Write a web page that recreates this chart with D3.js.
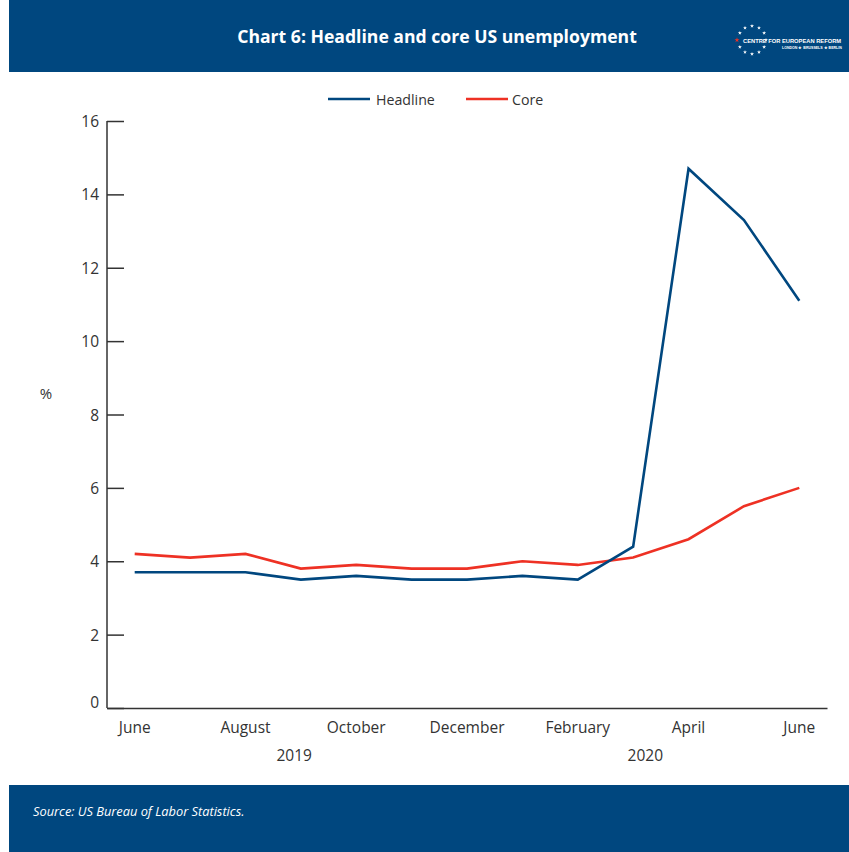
<!DOCTYPE html>
<html>
<head>
<meta charset="utf-8">
<script src="https://cdn.jsdelivr.net/npm/d3@7"></script>
<style>
  html, body { margin: 0; padding: 0; background: #fff; }
  svg { display: block; }
  text { font-family: "Open Sans", "Noto Sans", sans-serif; }
</style>
</head>
<body>
<svg id="chart" width="849" height="852"></svg>
<script>
const months = ["June","July","August","September","October","November","December","January","February","March","April","May","June "];
const yearLabels = ["2019", "2020"];
const yearAt = [2.88, 9.22];
const headline = [3.7, 3.7, 3.7, 3.5, 3.6, 3.5, 3.5, 3.6, 3.5, 4.4, 14.7, 13.3, 11.1];
const core = [4.2, 4.1, 4.2, 3.8, 3.9, 3.8, 3.8, 4.0, 3.9, 4.1, 4.6, 5.5, 6.0];
const yTicks = [0, 2, 4, 6, 8, 10, 12, 14, 16];

const navy = "#00477f";
const red = "#ee3124";
const axisCol = "#333";

const svg = d3.select("#chart");
const W = 849, H = 852;

// Header band
svg.append("rect").attr("x", 9).attr("y", 0).attr("width", W - 9).attr("height", 72).attr("fill", navy);
svg.append("text").attr("x", 437).attr("y", 43).attr("text-anchor", "middle")
  .attr("fill", "#fff").attr("font-size", 17.6).attr("font-weight", 700)
  .text("Chart 6: Headline and core US unemployment");

// Logo
const logo = svg.append("g").attr("transform", "translate(752,40)");
const starPath = d3.symbol().type(d3.symbolStar).size(5)();
for (let i = 0; i < 12; i++) {
  const a = i / 12 * 2 * Math.PI;
  if (i === 9) continue;
  logo.append("path").attr("d", starPath)
    .attr("transform", `translate(${Math.sin(a) * 14},${-Math.cos(a) * 14})`)
    .attr("fill", "#fff");
}
logo.append("path").attr("d", d3.symbol().type(d3.symbolStar).size(8)())
  .attr("transform", "translate(-15,0)").attr("fill", red);
function fitText(sel, target) {
  const len = sel.node().getComputedTextLength();
  const fs = +sel.attr("font-size");
  sel.attr("font-size", (fs * target / len).toFixed(2));
}
const l1 = logo.append("text").attr("x", -9).attr("y", 2.5).attr("fill", "#fff")
  .attr("font-size", 7).attr("font-weight", 700)
  .style("font-family", "'Liberation Sans Narrow', 'Liberation Sans', sans-serif")
  .text("CENTRE FOR EUROPEAN REFORM");
fitText(l1, 98);
const l2 = logo.append("text").attr("x", 30).attr("y", 8.5).attr("fill", "#fff")
  .attr("font-size", 4).attr("font-weight", 700)
  .style("font-family", "'Liberation Sans Narrow', 'Liberation Sans', sans-serif")
  .text("LONDON \u2605 BRUSSELS \u2605 BERLIN");
fitText(l2, 59);

// Footer band
svg.append("rect").attr("x", 9).attr("y", 785).attr("width", W - 9).attr("height", H - 785).attr("fill", navy);
svg.append("text").attr("x", 33).attr("y", 816).attr("fill", "#fff")
  .attr("font-size", 12.8).attr("font-style", "italic").text("Source: US Bureau of Labor Statistics.");

// Scales
const x = d3.scaleBand().domain(d3.range(months.length)).range([107, 827]).paddingInner(0).paddingOuter(0);
const xc = i => x(0) + x.step() * (i + 0.5);
const y = d3.scaleLinear().domain([0, 16]).range([708, 121]);

// Y axis
const yAxis = svg.append("g").attr("transform", "translate(107,0)")
  .call(d3.axisRight(y).tickValues(yTicks).tickSize(17).tickFormat(d3.format("d")));
yAxis.select(".domain").remove();
yAxis.selectAll(".tick line").attr("stroke", axisCol).attr("stroke-width", 1.5);
yAxis.selectAll(".tick text").attr("x", -8).attr("text-anchor", "end")
  .attr("dy", d => d === 0 ? "-0.05em" : "0.36em")
  .attr("fill", axisCol).attr("font-size", 15.5).attr("font-family", "'Open Sans', sans-serif");
svg.append("line").attr("x1", 107).attr("x2", 107).attr("y1", 121).attr("y2", 708)
  .attr("stroke", axisCol).attr("stroke-width", 1.5);

// X axis
const xAxis = svg.append("g").attr("transform", "translate(0,708)")
  .call(d3.axisBottom(x).tickValues(d3.range(0, months.length, 2)).tickSize(0)
    .tickFormat(i => months[i]));
xAxis.select(".domain").attr("stroke", axisCol).attr("stroke-width", 1.5);
xAxis.selectAll(".tick text").attr("dy", 0).attr("y", 25)
  .attr("fill", axisCol).attr("font-size", 15.5).attr("font-family", "'Open Sans', sans-serif");

// Year labels
svg.selectAll(".year").data(yearLabels).enter().append("text")
  .attr("class", "year")
  .attr("x", (d, i) => xc(yearAt[i]))
  .attr("y", 761).attr("text-anchor", "middle").attr("fill", axisCol).attr("font-size", 15.5)
  .text(d => d);

// Y unit
svg.append("text").attr("x", 46).attr("y", 399).attr("text-anchor", "middle")
  .attr("fill", axisCol).attr("font-size", 15).text("%");

// Lines
const line = d3.line().x((d, i) => xc(i)).y(d => y(d));
svg.append("path").datum(core).attr("d", line).attr("fill", "none")
  .attr("stroke", red).attr("stroke-width", 2.6).attr("stroke-linejoin", "miter");
svg.append("path").datum(headline).attr("d", line).attr("fill", "none")
  .attr("stroke", navy).attr("stroke-width", 2.6).attr("stroke-linejoin", "miter");

// Legend
const legend = [{ name: "Headline", color: navy, x: 328 }, { name: "Core", color: red, x: 466 }];
const lg = svg.selectAll(".lg").data(legend).enter().append("g").attr("class", "lg")
  .attr("transform", d => `translate(${d.x},99)`);
lg.append("line").attr("x1", 0).attr("x2", 42).attr("y1", 0).attr("y2", 0)
  .attr("stroke", d => d.color).attr("stroke-width", 2.6);
lg.append("text").attr("x", d => d.name === "Core" ? 46 : 48).attr("y", 5.5)
  .attr("fill", axisCol).attr("font-size", 14.2).text(d => d.name);
</script>
</body>
</html>
